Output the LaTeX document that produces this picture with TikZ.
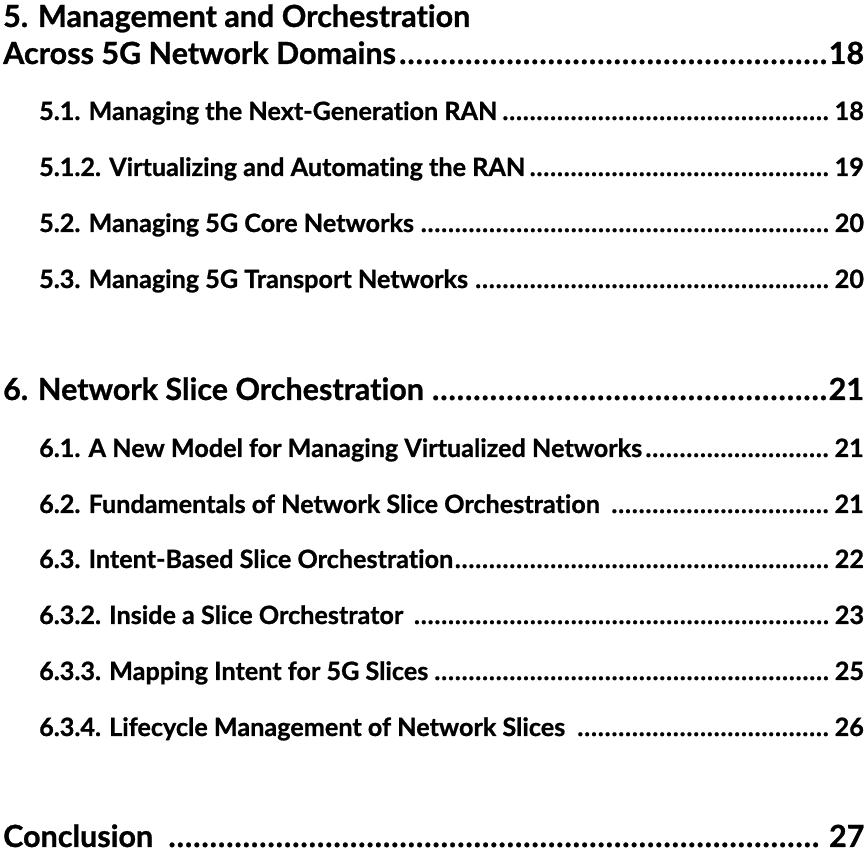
\documentclass[tikz,border=0pt]{standalone}
\usepackage{fontspec}
\setmainfont{Lato}[Ligatures={NoCommon,NoRare,NoContextual},
  BoldFeatures={FakeBold=0.9}]
\begin{document}
\begin{tikzpicture}[x=1pt,y=1pt,
  toptitle/.style={anchor=base west,inner sep=0pt,font=\fontsize{30.5}{36}\selectfont\bfseries},
  subentry/.style={anchor=base west,inner sep=0pt,font=\fontsize{25.2}{31}\selectfont\bfseries}]
\useasboundingbox (0,0) rectangle (865,856);
% one line of the table of contents: text, dot leaders, page number at the right edge
\newcommand{\tocline}[3]{\makebox[#1][l]{#2\leaders\hbox to 0.27em{\hss.\hss}\hfill#3}}

\node[toptitle] (s5a) at (3,829) {5. Management and Orchestration};
\node[toptitle] (s5b) at (3,792) {\tocline{860pt}{Across 5G Network Domains}{18}};
\node[subentry] (s51) at (39,736) {\tocline{824pt}{5.1. Managing the Next-Generation RAN}{18}};
\node[subentry] (s512) at (39,680) {\tocline{824pt}{5.1.2. Virtualizing and Automating the RAN}{19}};
\node[subentry] (s52) at (39,624) {\tocline{824pt}{5.2. Managing 5G Core Networks}{20}};
\node[subentry] (s53) at (39,568) {\tocline{824pt}{5.3. Managing 5G Transport Networks }{20}};

\node[toptitle] (s6) at (3,456) {\tocline{860pt}{6. Network Slice Orchestration}{21}};
\node[subentry] (s61) at (39,399) {\tocline{824pt}{6.1. A New Model for Managing Virtualized Networks}{21}};
\node[subentry] (s62) at (39,343) {\tocline{824pt}{6.2. Fundamentals of Network Slice Orchestration }{21}};
\node[subentry] (s63) at (39,288) {\tocline{824pt}{6.3. Intent-Based Slice Orchestration}{22}};
\node[subentry] (s632) at (39,232) {\tocline{824pt}{6.3.2. Inside a Slice Orchestrator }{23}};
\node[subentry] (s633) at (39,176) {\tocline{824pt}{6.3.3. Mapping Intent for 5G Slices}{25}};
\node[subentry] (s634) at (39,120) {\tocline{824pt}{6.3.4. Lifecycle Management of Network Slices }{26}};

\node[toptitle] (concl) at (3,9) {\tocline{860pt}{Conclusion }{ 27}};
\end{tikzpicture}
\end{document}
